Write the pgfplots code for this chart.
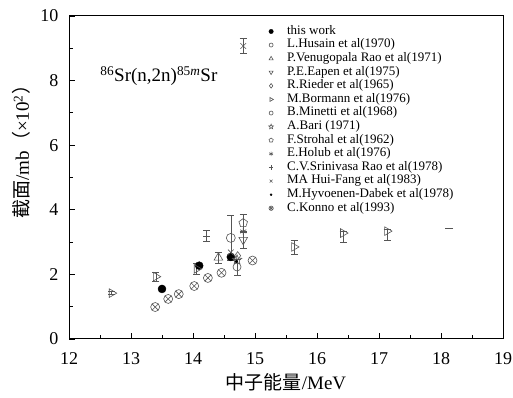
\documentclass[border=0pt]{standalone}
\usepackage{pgfplots}
\pgfplotsset{compat=1.18}
\usepackage{fontspec}
\setmainfont{Liberation Serif}
\newfontfamily\cjk{Noto Sans CJK SC}
\pgfdeclareplotmark{ostar}{%
  \pgfpathmoveto{\pgfqpointpolar{90}{\pgfplotmarksize}}%
  \pgfpathlineto{\pgfqpointpolar{126}{0.45\pgfplotmarksize}}%
  \pgfpathlineto{\pgfqpointpolar{162}{\pgfplotmarksize}}%
  \pgfpathlineto{\pgfqpointpolar{198}{0.45\pgfplotmarksize}}%
  \pgfpathlineto{\pgfqpointpolar{234}{\pgfplotmarksize}}%
  \pgfpathlineto{\pgfqpointpolar{270}{0.45\pgfplotmarksize}}%
  \pgfpathlineto{\pgfqpointpolar{306}{\pgfplotmarksize}}%
  \pgfpathlineto{\pgfqpointpolar{342}{0.45\pgfplotmarksize}}%
  \pgfpathlineto{\pgfqpointpolar{18}{\pgfplotmarksize}}%
  \pgfpathlineto{\pgfqpointpolar{54}{0.45\pgfplotmarksize}}%
  \pgfpathclose
  \pgfusepathqstroke}
\definecolor{mk}{HTML}{555555}
\pgfplotsset{lm/.style={legend image code/.code={\draw[##1,mark size=#1] plot coordinates {(0cm,0cm)};}}}
\begin{document}
\begin{tikzpicture}
\begin{axis}[
  name=ax,
  scale only axis,
  width=434pt, height=323pt,
  xmin=12, xmax=19, ymin=0, ymax=10,
  xtick={12,...,19}, ytick={0,2,...,10},
  minor x tick num=1, minor y tick num=1,
  tick align=inside,
  xtick pos=lower, ytick pos=left,
  major tick length=6pt, minor tick length=4pt,
  axis line style={line width=1pt},
  every tick/.style={black, line width=0.8pt},
  /pgf/number format/assume math mode=true,
  tick label style={font=\fontsize{18}{18}\selectfont},
  xticklabel style={yshift=-10pt},
  yticklabel style={xshift=-7pt},
  xlabel={{\cjk 中子能量}/MeV},
  ylabel={{\cjk 截面}/mb{\cjk （}×10\textsuperscript{2}{\cjk ）}},
  label style={font=\fontsize{19}{19}\selectfont},
  xlabel style={yshift=-2pt},
  ylabel style={at={(ticklabel cs:0.594)}, yshift=3pt},
  legend cell align=left,
  legend style={draw=none, fill=none, at={(axis cs:15.17,9.8)}, anchor=north west,
    font=\fontsize{13}{13}\selectfont, row sep=0pt,
    nodes={inner sep=0.6pt, text height=9pt, text depth=3.4pt},
    /tikz/every odd column/.append style={column sep=13pt}},
  error bars/y dir=both, error bars/y explicit,
  error bars/error bar style={mk, line width=0.6pt},
  error bars/error mark options={mk, rotate=90, mark size=3.5pt, line width=0.6pt},
]
% this work
\addplot[only marks, mark=*, mark size=4pt, black, lm=2.2pt] coordinates {
 (13.50,1.55) (14.10,2.27) (14.61,2.54)};
\addlegendentry{this work}
% L.Husain
\addplot[only marks, mark=o, mark size=4.5pt, mk, line width=0.6pt, lm=2pt] coordinates {
 (14.61,3.13) +- (0,0.70)};
\addlegendentry{L.Husain et al(1970)}
% P.Venugopala Rao
\addplot[only marks, mark=triangle, mark size=5pt, mk, line width=0.6pt, lm=2.3pt] coordinates {
 (14.41,2.52) +- (0,0.17)};
\addlegendentry{P.Venugopala Rao et al(1971)}
% P.E.Eapen
\addplot[only marks, mark=triangle, mark size=5pt, mark options={rotate=180}, mk, line width=0.6pt, lm=2.3pt] coordinates {
 (14.81,3.07) +- (0,0.25)};
\addlegendentry{P.E.Eapen et al(1975)}
% R.Rieder
\addplot[only marks, mark=diamond, mark size=4pt, mk, line width=0.6pt, lm=2.3pt] coordinates {
 (14.72,2.58)};
\addlegendentry{R.Rieder et al(1965)}
% M.Bormann
\addplot[only marks, mark=triangle, mark size=5pt, mark options={rotate=-90}, mk, line width=0.6pt, lm=2.3pt] coordinates {
 (12.69,1.42) +- (0,0.05)
 (13.40,1.93) +- (0,0.15)
 (14.06,2.17) +- (0,0.17)
 (15.63,2.85) +- (0,0.22)
 (16.42,3.28) += (0,0.05) -= (0,0.28)
 (17.13,3.34) += (0,0.05) -= (0,0.28)};
\addlegendentry{M.Bormann et al(1976)}
% B.Minetti
\addplot[only marks, mark=o, mark size=4pt, mk, line width=0.6pt, lm=2pt] coordinates {
 (14.71,2.23) +- (0,0.25)};
\addlegendentry{B.Minetti et al(1968)}
% A.Bari
\addplot[only marks, mark=ostar, mark size=5pt, mk, line width=0.6pt, lm=2.5pt] coordinates {
 (14.71,2.45)};
\addlegendentry{A.Bari (1971)}
% F.Strohal
\addplot[only marks, mark=pentagon, mark size=4.5pt, mk, line width=0.6pt, lm=2.2pt] coordinates {
 (14.81,3.59) +- (0,0.28)};
\addlegendentry{F.Strohal et al(1962)}
% E.Holub
\addplot[only marks, mark=asterisk, mark size=3.5pt, mk, line width=0.6pt, lm=2.2pt] coordinates {
 (14.81,3.33)};
\addlegendentry{E.Holub et al(1976)}
% C.V.Srinivasa Rao
\addplot[only marks, mark=+, mark size=3.5pt, mk, line width=0.6pt, lm=2.2pt] coordinates {
 (14.22,3.19) +- (0,0.17)};
\addlegendentry{C.V.Srinivasa Rao et al(1978)}
% MA Hui-Fang
\addplot[only marks, mark=x, mark size=4pt, mk, line width=0.6pt, lm=2pt] coordinates {
 (14.81,9.07) +- (0,0.23)
 (14.61,2.68)};
\addlegendentry{MA Hui-Fang et al(1983)}
% M.Hyvoenen-Dabek
\addplot[only marks, mark=*, mark size=1.5pt, black, lm=1pt] coordinates {
 (14.70,2.40)};
\addlegendentry{M.Hyvoenen-Dabek et al(1978)}
% C.Konno
\addplot[only marks, mark=otimes, mark size=4.5pt, mk, line width=0.6pt, lm=2.2pt] coordinates {
 (13.39,0.99) (13.60,1.24) (13.77,1.39) (14.02,1.64) (14.24,1.89) (14.46,2.05) (14.96,2.43)};
\addlegendentry{C.Konno et al(1993)}
% lone dash
\addplot[forget plot, only marks, mark=-, mark size=4pt, mk, line width=0.6pt] coordinates {
 (18.13,3.44)};
\node[anchor=base west, font=\fontsize{19}{19}\selectfont] at (axis cs:12.45,7.96)
  {\textsuperscript{86}Sr(n,2n)\textsuperscript{85\textit{m}}Sr};
\end{axis}
\pgfresetboundingbox
\path[use as bounding box] ([shift={(-69pt,-59pt)}]ax.south west) rectangle ([shift={(10pt,16pt)}]ax.north east);
\end{tikzpicture}
\end{document}
